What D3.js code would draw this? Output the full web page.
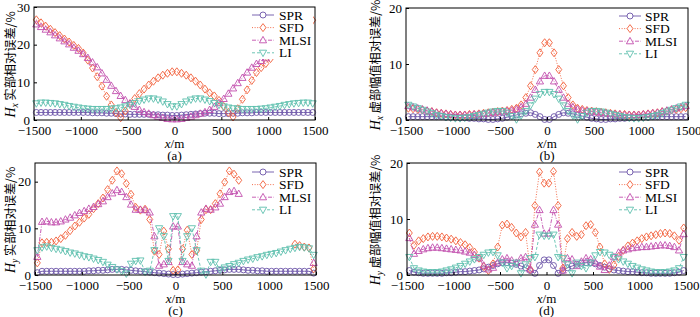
<!DOCTYPE html>
<html lang="zh">
  <head>
    <meta charset="utf-8">
    <title></title>
    <script type="text/javascript" src="https://cdn.jsdelivr.net/npm/d3@7"></script>
    <style>
      body { margin: 0; background: #fff; }
      text { font-family: "Liberation Serif", "Times New Roman", serif; }
      .cjk { font-family: "Noto Sans CJK SC", sans-serif; }
      .frame { fill: none; stroke: #000; stroke-width: 1; }
      .tick line { stroke: #000; }
    </style>
  </head>
  <body>
    <script>
      // sample positions (m)
      var xPos = [-1475,-1425,-1375,-1325,-1275,-1225,-1175,-1125,-1075,-1025,
                  -975,-925,-875,-825,-775,-725,-675,-625,-575,-525,
                  -475,-425,-375,-325,-275,-225,-175,-125,-75,-25,
                  25,75,125,175,225,275,325,375,425,475,
                  525,575,625,675,725,775,825,875,925,975,
                  1025,1075,1125,1175,1225,1275,1325,1375,1425,1475];
      var xTicks = [-1500, -1000, -500, 0, 500, 1000, 1500];
      var seriesNames = ["SPR", "SFD", "MLSI", "LI"];

      // (a) Hx real part
      var aSPR = [2.0,2.0,2.0,2.0,2.0,2.0,2.0,2.0,2.0,2.0, 2.0,2.0,1.9,1.9,1.9,1.8,1.8,1.7,1.6,1.6,
                  1.5,1.5,1.5,1.5,1.5,1.4,1.4,1.3,1.3,1.2, 1.2,1.3,1.4,1.5,1.6,1.7,1.8,1.8,1.8,1.7,
                  1.7,1.7,1.8,1.8,1.9,1.9,1.9,2.0,2.0,2.0, 2.0,2.0,2.0,2.0,2.0,2.0,2.0,2.0,2.0,2.0];
      var aSFD = [26.6,25.8,24.9,24.1,23.2,22.4,21.5,20.7,19.8,19.0, 17.8,15.9,13.8,11.5,9.0,6.3,4.0,2.0,0.6,2.4,
                  4.3,5.7,7.0,8.2,9.3,10.3,11.2,11.9,12.4,12.8, 12.8,12.4,11.9,11.2,10.3,9.3,8.2,7.2,6.4,5.2,
                  3.6,2.0,0.8,3.0,5.5,8.0,10.5,12.6,13.9,15.0, 16.3,null,null,null,null,null,null,null,null,26.5];
      var aMLSI = [25.4,24.7,24.0,23.3,22.5,21.7,20.9,20.1,19.2,18.4, 17.5,16.5,15.3,14.0,12.4,10.7,9.1,7.7,6.4,5.3,
                   4.4,3.5,2.7,2.1,1.7,1.3,0.9,0.6,0.3,0.2, 0.2,0.3,0.6,0.9,1.3,1.7,2.1,2.7,3.5,4.5,
                   5.6,7.0,8.4,9.8,11.2,12.6,13.9,14.9,15.7,16.4, null,null,null,null,null,null,null,null,null,null];
      var aLI = [4.4,4.6,4.6,4.5,4.4,4.2,4.0,3.7,3.5,3.3, 3.1,3.0,2.9,2.9,2.9,2.9,3.0,3.1,3.3,3.6,
                 4.0,4.5,5.0,5.4,5.7,5.7,5.4,4.9,4.2,3.6, 3.6,4.2,4.9,5.4,5.7,5.7,5.4,5.0,4.5,4.0,
                 3.6,3.3,3.1,3.0,2.9,2.9,2.9,2.9,3.0,3.1, 3.3,3.5,3.7,4.0,4.2,4.4,4.5,4.6,4.6,4.4];

      // (b) Hx imaginary part
      var bSPR = [0.6,0.6,0.6,0.6,0.6,0.6,0.6,0.6,0.5,0.5, 0.5,0.4,0.4,0.3,0.3,0.2,0.2,0.1,0.1,0.2,
                  0.3,0.5,0.7,0.9,1.1,1.2,1.3,1.0,0.6,0.1, 0.1,0.6,1.0,1.3,1.2,1.1,0.9,0.7,0.5,0.3,
                  0.2,0.1,0.1,0.2,0.2,0.3,0.3,0.4,0.4,0.5, 0.5,0.5,0.6,0.6,0.6,0.6,0.6,0.6,0.6,0.6];
      var bSFD = [2.1,2.0,1.9,1.8,1.6,1.5,1.3,1.2,1.1,1.0, 0.9,0.9,0.9,1.0,1.0,1.1,1.2,1.3,1.4,1.5,
                  1.6,1.7,1.9,2.1,2.7,4.0,6.1,9.0,12.0,13.8, 13.8,12.0,9.0,6.1,4.0,2.7,2.1,1.9,1.7,1.6,
                  1.5,1.4,1.3,1.2,1.1,1.0,1.0,0.9,0.9,0.9, 1.0,1.1,1.2,1.3,1.5,1.6,1.8,1.9,2.0,2.2];
      var bMLSI = [2.5,2.3,2.1,1.9,1.7,1.5,1.3,1.2,1.1,1.0, 0.9,0.9,0.9,0.9,1.0,1.0,1.1,1.2,1.3,1.4,
                   1.5,1.6,1.7,1.9,2.3,2.9,4.0,5.4,6.9,7.9, 7.9,6.9,5.4,4.0,2.9,2.3,1.9,1.7,1.6,1.5,
                   1.4,1.3,1.2,1.1,1.0,1.0,0.9,0.9,0.9,0.9, 1.0,1.1,1.2,1.3,1.5,1.7,1.9,2.1,2.3,2.5];
      var bLI = [2.7,2.4,2.1,1.8,1.5,1.2,0.9,0.7,0.5,0.4, 0.3,0.3,0.4,0.5,0.7,0.9,1.1,1.3,1.5,1.6,
                 1.6,1.3,0.7,0.1,0.8,1.6,2.6,3.8,4.6,5.0, 5.0,4.6,3.8,2.6,1.6,0.8,0.1,0.7,1.3,1.6,
                 1.6,1.5,1.3,1.1,0.9,0.7,0.5,0.4,0.3,0.3, 0.4,0.5,0.7,0.9,1.2,1.5,1.8,2.1,2.4,2.7];

      // (c) Hy real part
      var cSPR = [0.5,0.8,0.8,0.8,0.8,0.8,0.8,0.8,0.8,0.8, 0.8,0.9,0.9,1.0,1.0,1.1,1.2,1.2,1.2,1.1,
                  1.0,0.9,0.8,0.7,0.6,0.5,0.4,0.3,0.2,0.1, 0.1,0.2,0.3,0.4,0.5,0.6,0.7,0.8,0.9,1.0,
                  1.1,1.2,1.2,1.2,1.1,1.0,1.0,0.9,0.9,0.8, 0.8,0.8,0.8,0.8,0.8,0.8,0.8,0.8,0.8,0.4];
      var cSFD = [2.6,6.9,7.0,7.0,7.3,7.8,8.5,9.5,10.5,11.3, 12.2,13.0,14.2,15.3,16.5,18.3,20.3,22.3,21.7,19.6,
                  17.3,14.5,13.9,14.1,11.9,5.1,4.4,9.4,5.6,1.0, 1.1,5.6,9.6,4.4,5.2,11.9,14.0,14.0,15.3,17.4,
                  19.9,22.3,21.6,20.3,null,null,null,null,null,null, null,null,null,null,null,6.6,6.3,6.0,5.8,1.3];
      var cMLSI = [3.9,11.4,11.5,11.3,11.3,11.5,11.9,12.3,12.8,13.3, 13.7,14.2,14.6,15.2,15.8,16.7,17.5,18.2,17.8,16.7,
                   15.1,14.0,14.0,13.9,13.4,8.3,2.0,2.3,2.8,10.4, 10.4,2.8,2.3,2.0,8.3,13.4,14.2,14.0,14.5,15.3,
                   16.7,17.8,18.0,17.4,null,null,null,null,null,null, null,null,null,null,null,null,null,null,null,2.6];
      var cLI = [5.3,5.9,6.1,5.8,5.6,5.4,5.1,4.8,4.6,4.3, 4.0,3.8,3.5,3.2,2.8,2.2,1.7,1.2,0.8,0.3,
                 2.4,3.0,3.1,0.7,0.9,5.3,10.0,8.3,3.0,12.6, 12.6,3.0,8.3,10.0,5.3,0.9,0.1,2.8,2.8,1.2,
                 1.6,1.9,2.3,2.6,3.0,3.3,3.5,3.8,4.0,4.3, 4.5,4.7,5.0,5.3,5.6,5.8,6.0,5.9,5.7,4.3];

      // (d) Hy imaginary part
      var dSPR = [0.8,0.5,0.4,0.3,0.3,0.3,0.3,0.3,0.4,0.4, 0.5,0.6,0.6,0.7,0.8,0.9,1.1,1.4,1.7,2.0,
                  2.2,2.2,2.1,1.9,1.6,1.3,0.8,0.3,1.7,2.7, 2.7,1.7,0.3,0.8,1.3,1.6,1.9,2.1,2.2,2.2,
                  2.0,1.7,1.4,1.1,0.9,0.8,0.7,0.6,0.6,0.5, 0.4,0.4,0.3,0.3,0.3,0.3,0.3,0.4,0.5,0.8];
      var dSFD = [7.5,5.3,6.1,6.5,6.8,6.9,6.9,6.8,6.6,6.4, 6.1,5.8,5.4,4.9,4.1,3.0,1.5,0.8,2.0,5.0,
                  8.9,9.1,8.5,7.5,6.8,7.6,1.0,12.4,18.4,16.4, 16.4,18.5,12.4,1.2,6.5,7.6,6.9,7.2,8.8,9.0,
                  7.6,5.0,2.0,1.0,1.8,3.3,4.4,5.2,5.7,6.1, 6.5,6.8,7.0,7.2,7.4,7.5,7.4,7.0,6.2,8.4];
      var dMLSI = [6.6,3.8,4.3,4.6,4.8,4.9,4.9,4.8,4.7,4.6, 4.5,4.4,4.2,4.0,3.6,3.0,1.7,1.0,1.3,2.2,
                   2.8,3.0,2.6,2.2,3.0,3.2,1.0,9.0,11.6,7.4, 7.4,11.6,9.0,0.8,3.0,2.8,1.6,2.4,3.0,2.8,
                   2.2,1.5,0.9,1.7,3.2,4.0,4.4,4.6,4.8,4.9, 5.0,5.0,5.1,5.2,5.3,5.3,5.2,5.0,4.4,7.3];
      var dLI = [3.2,1.2,0.8,0.6,0.5,0.5,0.5,0.6,0.8,1.0, 1.3,1.6,2.0,2.4,2.8,3.2,3.6,4.0,4.1,3.5,
                 2.2,1.2,1.6,2.2,0.3,1.9,3.0,3.2,7.2,7.0, 7.0,7.2,3.2,3.0,1.9,0.3,2.2,1.6,1.2,2.2,
                 3.5,4.1,4.0,3.6,3.2,2.8,2.4,2.0,1.6,1.3, 1.0,0.8,0.6,0.5,0.5,0.5,0.6,0.8,1.2,3.2];

      var styles = {
        SPR:  { color: "#6c55a8", dash: null,          shape: "M3,0A3,3 0 1,1 -3,0A3,3 0 1,1 3,0Z" },
        SFD:  { color: "#f25f3a", dash: "1,1.6",       shape: "M0,-4L3,0L0,4L-3,0Z" },
        MLSI: { color: "#c24fae", dash: "4,1.5,1,1.5", shape: "M0,-3.8L3.6,2.6L-3.6,2.6Z" },
        LI:   { color: "#5ebfae", dash: "3,2",         shape: "M0,3.8L3.6,-2.6L-3.6,-2.6Z" }
      };

      var panels = [
        { x0: 34, x1: 315, y0: 7, y1: 120, ymax: 30, yTicks: [0, 10, 20, 30], sub: "x",
          label: " 实部相对误差/%", tag: "(a)", labelX: 10, legX: 252, txtX: 279, legY: 15,
          box: [247, 8, 313, 59], data: [aSPR, aSFD, aMLSI, aLI] },
        { x0: 406, x1: 688, y0: 8, y1: 120, ymax: 20, yTicks: [0, 10, 20], sub: "x",
          label: " 虚部幅值相对误差/%", tag: "(b)", labelX: 375, legX: 619, txtX: 645, legY: 16,
          box: [614, 9, 686, 60], data: [bSPR, bSFD, bMLSI, bLI] },
        { x0: 35, x1: 316, y0: 163, y1: 275, ymax: 24, yTicks: [0, 10, 20], sub: "y",
          label: " 实部相对误差/%", tag: "(c)", labelX: 10, legX: 252, txtX: 279, legY: 172,
          box: [247, 164, 314, 215], data: [cSPR, cSFD, cMLSI, cLI] },
        { x0: 407, x1: 686, y0: 163, y1: 275, ymax: 20, yTicks: [0, 10, 20], sub: "y",
          label: " 虚部幅值相对误差/%", tag: "(d)", labelX: 375, legX: 619, txtX: 645, legY: 172,
          box: [614, 164, 684, 215], data: [dSPR, dSFD, dMLSI, dLI] }
      ];

      var svg = d3.select("body")
                  .append("svg")
                  .attr("width", 700)
                  .attr("height", 317);

      panels.forEach(function (p) {
        var xScale = d3.scaleLinear().domain([-1500, 1500]).range([p.x0, p.x1]);
        var yScale = d3.scaleLinear().domain([0, p.ymax]).range([p.y1, p.y0]);
        var g = svg.append("g");

        // series lines then markers
        p.data.forEach(function (arr, k) {
          var st = styles[seriesNames[k]];
          var pts = xPos.map(function (x, i) { return { x: x, v: arr[i] }; });
          var line = d3.line()
                       .defined(function (d) { return d.v != null; })
                       .x(function (d) { return xScale(d.x); })
                       .y(function (d) { return yScale(d.v); });
          g.append("path")
           .datum(pts)
           .attr("d", line)
           .attr("fill", "none")
           .attr("stroke", st.color)
           .attr("stroke-width", 0.9)
           .attr("stroke-dasharray", st.dash);
          g.selectAll(null)
           .data(pts.filter(function (d) { return d.v != null; }))
           .enter()
           .append("path")
           .attr("d", st.shape)
           .attr("transform", function (d) { return "translate(" + xScale(d.x) + "," + yScale(d.v) + ")"; })
           .attr("fill", "none")
           .attr("stroke", st.color)
           .attr("stroke-width", 0.9);
        });

        // legend (white box hides data under it)
        g.append("rect")
         .attr("x", p.box[0]).attr("y", p.box[1])
         .attr("width", p.box[2] - p.box[0]).attr("height", p.box[3] - p.box[1])
         .attr("fill", "#fff");
        seriesNames.forEach(function (name, k) {
          var st = styles[name];
          var ly = p.legY + k * 12.6;
          g.append("line")
           .attr("x1", p.legX).attr("x2", p.legX + 22)
           .attr("y1", ly).attr("y2", ly)
           .attr("stroke", st.color).attr("stroke-width", 0.9)
           .attr("stroke-dasharray", st.dash);
          g.append("path")
           .attr("d", st.shape)
           .attr("transform", "translate(" + (p.legX + 11) + "," + ly + ")")
           .attr("fill", "#fff").attr("stroke", st.color).attr("stroke-width", 0.9);
          g.append("text")
           .attr("x", p.txtX).attr("y", ly + 4.5)
           .attr("font-size", 13.5)
           .text(name);
        });

        // axes
        var xAxis = d3.axisBottom(xScale).tickValues(xTicks).tickSize(-3).tickPadding(6)
                      .tickFormat(d3.format("d"));
        var yAxis = d3.axisLeft(yScale).tickValues(p.yTicks).tickSize(-3).tickPadding(4)
                      .tickFormat(d3.format("d"));
        g.append("g")
         .attr("transform", "translate(0," + p.y1 + ")")
         .call(xAxis)
         .call(function (s) { s.select(".domain").remove(); })
         .selectAll("text").attr("font-size", 13).attr("fill", "#000")
         .style("font-family", "'Liberation Serif', serif");
        g.append("g")
         .attr("transform", "translate(" + p.x0 + ",0)")
         .call(yAxis)
         .call(function (s) { s.select(".domain").remove(); })
         .selectAll("text").attr("font-size", 13).attr("fill", "#000")
         .style("font-family", "'Liberation Serif', serif");

        g.append("rect")
         .attr("class", "frame")
         .attr("x", p.x0).attr("y", p.y0)
         .attr("width", p.x1 - p.x0).attr("height", p.y1 - p.y0);

        // axis titles
        var cx = (p.x0 + p.x1) / 2;
        var xt = g.append("text").attr("x", cx).attr("y", p.y1 + 28)
                  .attr("text-anchor", "middle").attr("font-size", 13);
        xt.append("tspan").attr("font-style", "italic").text("x");
        xt.append("tspan").text("/m");
        g.append("text").attr("x", cx).attr("y", p.y1 + 40)
         .attr("text-anchor", "middle").attr("font-size", 13).text(p.tag);

        var cy = (p.y0 + p.y1) / 2 + 1;
        var yt = g.append("text")
                  .attr("transform", "translate(" + (p.labelX + 5) + "," + cy + ") rotate(-90)")
                  .attr("text-anchor", "middle").attr("font-size", 14);
        yt.append("tspan").attr("font-style", "italic").text("H");
        yt.append("tspan").attr("font-style", "italic").attr("font-size", 9.5)
          .attr("dy", 3).text(p.sub);
        yt.append("tspan").attr("class", "cjk").attr("font-size", 12.2)
          .attr("dy", -3).text(p.label);
      });
    </script>
  </body>
</html>
